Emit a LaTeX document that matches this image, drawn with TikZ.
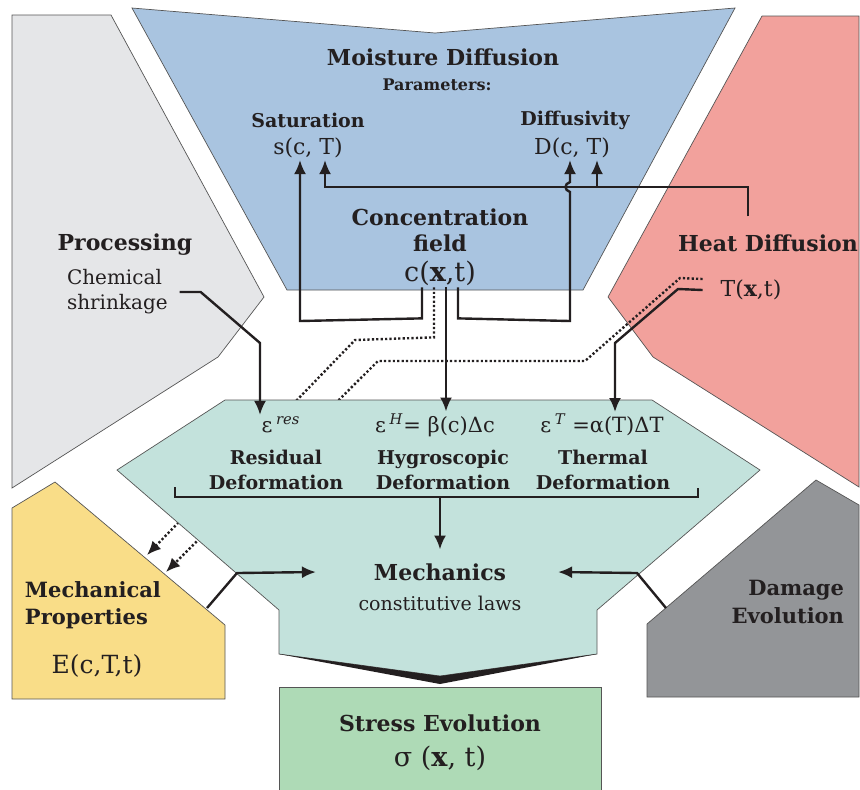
\documentclass[tikz,border=0pt]{standalone}
\usepackage{fontspec}
\setmainfont{DejaVu Serif}
\usepackage{tikz}
\usetikzlibrary{arrows.meta}
\definecolor{moistblue}{RGB}{169,196,224}
\definecolor{procgray}{RGB}{229,230,232}
\definecolor{heatred}{RGB}{242,161,156}
\definecolor{mechteal}{RGB}{195,226,220}
\definecolor{propyellow}{RGB}{249,221,136}
\definecolor{dmggray}{RGB}{147,149,152}
\definecolor{stressgreen}{RGB}{174,218,182}
\definecolor{ink}{RGB}{35,31,32}
\definecolor{rim}{RGB}{85,85,85}

\begin{document}
\begin{tikzpicture}[x=0.5pt,y=-0.5pt,
    every node/.style={text=ink,inner sep=1pt,outer sep=0pt,align=center},
    panel/.style={draw=rim,line width=0.35pt},
    conn/.style={draw=ink,line width=1.2pt,-{Latex[length=7pt,width=6pt]}},
    dotconn/.style={conn,dash pattern=on 1.1pt off 1.1pt},
    hd/.style={font=\bfseries\fontsize{11}{13}\selectfont},
    sub/.style={font=\bfseries\fontsize{9.5}{12.5}\selectfont},
    par/.style={font=\bfseries\fontsize{8}{10}\selectfont},
    fn/.style={font=\fontsize{11}{13}\selectfont},
    bigfn/.style={font=\fontsize{13.5}{16}\selectfont},
    eq/.style={font=\fontsize{10.5}{12}\selectfont},
    plain/.style={font=\fontsize{10}{12.5}\selectfont}]
    \useasboundingbox (0,0) rectangle (860,789);
    % panels
    \draw[panel,fill=moistblue] (132,8) -- (435,33) -- (735,8) -- (583,290) -- (287,290) -- cycle;
    \draw[panel,fill=procgray] (12,15) -- (111,15) -- (264,297) -- (218,357) -- (12,488) -- cycle;
    \draw[panel,fill=heatred] (762,16) -- (859,16) -- (859,487) -- (653,357) -- (608,297) -- cycle;
    \draw[panel,fill=propyellow] (12,508) -- (55,482) -- (225,625) -- (225,699) -- (12,699) -- cycle;
    \draw[panel,fill=dmggray] (647,624) -- (816,480) -- (859,505) -- (859,697) -- (647,697) -- cycle;
    \draw[panel,fill=stressgreen] (279,687) rectangle (601,793);

    % texts
    \node[hd] (moist) at (443,57) {Moisture Diffusion};
    \node[par] (param) at (437,85) {Parameters:};
    \node[sub] (sat) at (308,120) {Saturation};
    \node[fn] (satf) at (308,148) {s(c, T)};
    \node[sub] (diff) at (575,120) {Diffusivity};
    \node[fn] (difff) at (572,148) {D(c, T)};
    \node[hd] (conc) at (440,230) {Concentration\\field};
    \node[bigfn] (cxt) at (440,273) {c(\textbf{x},t)};
    \node[hd] (proc) at (125,245) {Processing};
    \node[plain,align=left,anchor=west] (chem) at (65,292) {Chemical\\shrinkage};
    \node[hd] (heat) at (768,243) {Heat Diffusion};
    \node[fn] (tfield) at (751,290) {T(\textbf{x},t)};

    % dotted paths run under the mechanics panel
    \coordinate (mp1) at (147,555);
    \coordinate (mp2) at (166,572);
    \draw[dotconn] ([xshift=-3pt]cxt.south) -- ++(0,50) -- (355,340) -- (mp1);
    \draw[dotconn] ([xshift=-8pt,yshift=5.5pt]tfield.west) -- (680,278) -- (585,361) -- (378,361) -- (mp2);

    \draw[panel,fill=mechteal] (225,400) -- (652,400) -- (760,470) -- (597,610) -- (597,654) -- (440,676)
        -- (279,654) -- (279,610) -- (117,470) -- cycle;
    \fill[ink] (279,654) -- (440,676) -- (597,654) -- (440,684) -- cycle;

    \node[eq] (eres) at (281,425) {ε\,\textsuperscript{\itshape res}};
    \node[eq] (eh) at (435,425) {ε\,\textsuperscript{\itshape H}= β(c)Δc};
    \node[eq] (et) at (602,425) {ε\,\textsuperscript{\itshape T} =α(T)ΔT};
    \node[sub] (resdef) at (276,470) {Residual\\Deformation};
    \node[sub] (hygdef) at (443,470) {Hygroscopic\\Deformation};
    \node[sub] (thdef) at (603,470) {Thermal\\Deformation};
    \node[hd] (mech) at (440,572) {Mechanics};
    \node[fn,font=\fontsize{9.5}{12}\selectfont] (claws) at (440,603) {constitutive laws};
    \node[hd,font=\bfseries\fontsize{10.5}{13.5}\selectfont,align=left,anchor=west] (mprop) at (23,605) {Mechanical\\Properties};
    \node[font=\fontsize{12.5}{15}\selectfont] (econst) at (97,666) {E(c,T,t)};
    \node[hd,font=\bfseries\fontsize{10.5}{14}\selectfont,align=right,anchor=east] (damage) at (846,602) {Damage\\Evolution};
    \node[hd] (stress) at (440,723) {Stress Evolution};
    \node[bigfn] (sigma) at (440,758) {σ (\textbf{x}, t)};

    % connectors
    \draw[conn] ([xshift=-9pt]cxt.south) -- ++(0,31) -- (300,321) coordinate (s1) -- (s1 |- satf.south);
    \draw[conn] ([xshift=9pt]cxt.south) -- ++(0,31) -- (570,321) -- (570,192)
        .. controls (564,190) and (564,184) .. (570,182) coordinate (d1) -- (d1 |- difff.south);
    \draw[conn] ([xshift=-10pt,yshift=8pt]heat.north) -- (748,187) -- (325,187) coordinate (s2) -- (s2 |- satf.south);
    \coordinate (hbr) at (597,187);
    \draw[conn] (hbr) -- (hbr |- difff.south);
    \draw[conn] ([xshift=3pt]cxt.south) coordinate (h0) -- (h0 |- eh.north);
    \draw[conn] ([xshift=5pt]chem.east) -- ++(21,0) -- (260,343) coordinate (r1) -- (r1 |- eres.north);
    \draw[conn] ([xshift=-8pt]tfield.west) -- (678,289) -- (615,343) coordinate (t1) -- (t1 |- et.north);
    % bracket
    \coordinate (brk) at (440,497);
    \draw[line width=1.2pt,draw=ink] (175,487) -- (175,497) -- (698,497) -- (698,488);
    \draw[conn] (brk) -- ([yshift=6pt]mech.north);
    \coordinate (ye) at (207,608);
    \coordinate (de) at (666,608);
    \draw[conn] (ye) -- (237,573) -- ([xshift=-28pt]mech.west);
    \draw[conn] (de) -- (637,573) -- ([xshift=25pt]mech.east);
\end{tikzpicture}
\end{document}
